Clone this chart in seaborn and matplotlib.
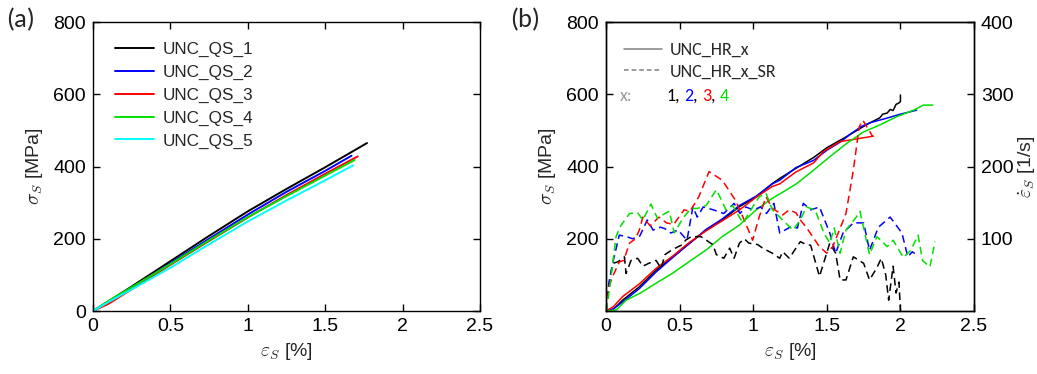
import numpy as np
import pandas as pd
import matplotlib
matplotlib.use("Agg")
import matplotlib.pyplot as plt
import seaborn as sns
from matplotlib.lines import Line2D

# ---------------- data: panel (a) quasi-static ----------------
qs_names = ["UNC_QS_1", "UNC_QS_2", "UNC_QS_3", "UNC_QS_4", "UNC_QS_5"]
qs1_x = [0, 0.1, 0.25, 0.5, 0.75, 1.0, 1.25, 1.5, 1.77]
qs1_y = [0, 27, 68, 138, 208, 276, 338, 398, 465]
qs2_x = [0, 0.1, 0.25, 0.5, 0.75, 1.0, 1.25, 1.5, 1.67]
qs2_y = [0, 26, 64, 132, 200, 267, 330, 388, 430]
qs3_x = [0, 0.1, 0.25, 0.5, 0.75, 1.0, 1.25, 1.5, 1.71]
qs3_y = [0, 20, 60, 128, 194, 259, 321, 380, 428]
qs4_x = [0, 0.1, 0.25, 0.5, 0.75, 1.0, 1.25, 1.5, 1.69]
qs4_y = [0, 28, 66, 130, 196, 260, 318, 375, 418]
qs5_x = [0, 0.1, 0.25, 0.5, 0.75, 1.0, 1.25, 1.5, 1.68]
qs5_y = [0, 25, 60, 120, 185, 248, 306, 362, 403]
qs_colors = ["#000000", "#0000ff", "#ff0000", "#00e000", "#00ffff"]

# ---------------- data: panel (b) high rate, stress [MPa] ----------------
hr_names = ["1", "2", "3", "4"]
hr1_x = [0, 0.05, 0.113, 0.226, 0.34, 0.453, 0.566, 0.68, 0.79, 0.906, 1.02, 1.13,
         1.18, 1.29, 1.41, 1.5, 1.635, 1.77, 1.86, 1.88, 1.91, 1.93, 1.95, 1.97,
         1.99, 2.0, 2.0]
hr1_y = [0, 5, 30, 67, 113, 150, 187, 224, 252, 289, 316, 353,
         367, 395, 425, 452, 483, 516, 535, 545, 548, 558, 555, 572,
         576, 580, 598]
hr2_x = [0, 0.05, 0.113, 0.226, 0.34, 0.453, 0.566, 0.68, 0.79, 0.906, 1.02, 1.13,
         1.18, 1.29, 1.41, 1.5, 1.6, 1.66, 1.74, 1.8, 1.9, 2.0, 2.11]
hr2_y = [0, 6, 25, 62, 108, 148, 187, 226, 255, 292, 318, 352,
         362, 397, 417, 445, 470, 490, 512, 522, 533, 545, 556]
hr3_x = [0, 0.05, 0.113, 0.226, 0.34, 0.453, 0.566, 0.68, 0.79, 0.9, 1.02, 1.13,
         1.18, 1.29, 1.41, 1.476, 1.59, 1.726, 1.816]
hr3_y = [0, 12, 40, 75, 118, 152, 190, 222, 250, 278, 315, 345,
         352, 385, 410, 441, 469, 478, 484]
hr4_x = [0, 0.07, 0.136, 0.23, 0.34, 0.45, 0.566, 0.68, 0.79, 0.906, 1.02, 1.13,
         1.245, 1.296, 1.41, 1.52, 1.635, 1.75, 1.86, 1.975, 2.09, 2.155, 2.22]
hr4_y = [0, 3, 30, 49, 77, 104, 137, 169, 206, 238, 280, 312,
         340, 353, 390, 427, 464, 496, 515, 538, 556, 570, 570]

# ---------------- data: panel (b) strain rate [1/s] ----------------
sr1_x = [0, 0.02, 0.045, 0.08, 0.125, 0.136, 0.17, 0.215, 0.25, 0.29, 0.34, 0.374,
         0.4, 0.45, 0.49, 0.52, 0.54, 0.58, 0.645, 0.725, 0.75, 0.8, 0.84, 0.87,
         0.906, 0.94, 0.97, 1.03, 1.064, 1.13, 1.18, 1.2, 1.245, 1.29, 1.32, 1.36,
         1.39, 1.45, 1.52, 1.56, 1.59, 1.63, 1.68, 1.72, 1.75, 1.79, 1.84, 1.87,
         1.9, 1.92, 1.95, 1.97, 1.99, 2.0]
sr1_y = [0, 34, 66, 68, 75, 52, 70, 73, 62, 66, 70, 59,
         78, 85, 89, 92, 98, 103, 103, 92, 78, 73, 87, 73,
         94, 100, 94, 92, 87, 80, 73, 82, 73, 87, 96, 92,
         91, 48, 94, 80, 43, 43, 75, 70, 66, 43, 60, 73,
         50, 15, 62, 25, 40, 0]
sr2_x = [0, 0.02, 0.045, 0.09, 0.14, 0.18, 0.23, 0.28, 0.32, 0.37, 0.4, 0.44, 0.49,
         0.55, 0.59, 0.62, 0.66, 0.73, 0.8, 0.87, 0.91, 0.95, 1.0, 1.05, 1.09, 1.14,
         1.18, 1.25, 1.3, 1.34, 1.39, 1.45, 1.52, 1.56, 1.61, 1.68, 1.75, 1.79, 1.85,
         1.93, 2.01, 2.05, 2.08, 2.11]
sr2_y = [0, 40, 66, 105, 103, 100, 104, 126, 112, 116, 114, 108, 112,
         98, 144, 130, 144, 140, 135, 149, 135, 144, 140, 144, 135, 149,
         108, 116, 115, 149, 140, 144, 108, 80, 108, 122, 122, 84, 116,
         130, 108, 75, 82, 78]
sr3_x = [0, 0.02, 0.05, 0.09, 0.12, 0.16, 0.2, 0.226, 0.25, 0.3, 0.36, 0.41, 0.46,
         0.53, 0.57, 0.63, 0.7, 0.79, 0.88, 0.93, 0.996, 1.04, 1.087, 1.13, 1.2,
         1.245, 1.29, 1.32, 1.36, 1.45, 1.5, 1.54, 1.63, 1.68, 1.72, 1.745, 1.81]
sr3_y = [0, 34, 50, 68, 70, 94, 100, 112, 130, 118, 130, 122, 120,
         140, 138, 158, 193, 181, 153, 130, 98, 130, 158, 142, 133,
         140, 136, 126, 116, 89, 80, 89, 135, 195, 255, 264, 242]
sr4_x = [0, 0.023, 0.068, 0.1, 0.16, 0.215, 0.25, 0.305, 0.35, 0.4, 0.43, 0.464,
         0.52, 0.577, 0.62, 0.68, 0.75, 0.815, 0.86, 0.906, 0.93, 0.996, 1.04,
         1.087, 1.13, 1.2, 1.27, 1.32, 1.36, 1.42, 1.48, 1.52, 1.55, 1.59, 1.63,
         1.7, 1.725, 1.79, 1.84, 1.91, 1.95, 2.02, 2.07, 2.12, 2.15, 2.2, 2.235]
sr4_y = [0, 29, 103, 118, 135, 136, 126, 148, 128, 135, 138, 108,
         128, 142, 142, 146, 168, 140, 146, 130, 122, 144, 158,
         163, 140, 126, 112, 126, 144, 140, 108, 94, 115, 80, 112,
         130, 138, 78, 103, 89, 98, 74, 84, 105, 70, 61, 96]
hr_colors = ["#000000", "#0000ff", "#ff0000", "#00e000"]

# ---------------- build tables ----------------
def long_df(xs, ys, names):
    frames = []
    for x, y, n in zip(xs, ys, names):
        frames.append(pd.DataFrame({"strain": x, "val": y, "spec": n}))
    return pd.concat(frames, ignore_index=True)

df_qs = long_df([qs1_x, qs2_x, qs3_x, qs4_x, qs5_x],
                [qs1_y, qs2_y, qs3_y, qs4_y, qs5_y], qs_names)
df_hr = long_df([hr1_x, hr2_x, hr3_x, hr4_x],
                [hr1_y, hr2_y, hr3_y, hr4_y], hr_names)
df_sr = long_df([sr1_x, sr2_x, sr3_x, sr4_x],
                [sr1_y, sr2_y, sr3_y, sr4_y], hr_names)

# ---------------- style ----------------
sns.set_theme(style="white")
plt.rcParams["font.family"] = ["Liberation Sans", "DejaVu Sans"]
plt.rcParams["mathtext.fontset"] = "cm"
plt.rcParams["axes.linewidth"] = 1.0
plt.rcParams["axes.edgecolor"] = "black"

fig = plt.figure(figsize=(10.37, 3.74), dpi=100)
axa = fig.add_axes([0.0897, 0.1684, 0.3732, 0.7727])
axb = fig.add_axes([0.5844, 0.1684, 0.3549, 0.7727])

FS = 14
cal = ["Carlito", "DejaVu Sans"]

def style_ax(ax, right=True):
    ax.tick_params(direction="in", length=5, width=1, labelsize=FS,
                   top=True, right=right, bottom=True, left=True, colors="black",
                   pad=5)
    for s in ax.spines.values():
        s.set_color("black")
        s.set_linewidth(1.0)

# ---------------- panel (a) ----------------
sns.lineplot(data=df_qs, x="strain", y="val", hue="spec", palette=qs_colors,
             hue_order=qs_names, sort=False, estimator=None, units="spec",
             lw=1.4, ax=axa)
axa.set_xlim(0, 2.5)
axa.set_ylim(0, 800)
axa.set_xticks([0, 0.5, 1, 1.5, 2, 2.5])
axa.set_xticklabels(["0", "0.5", "1", "1.5", "2", "2.5"])
axa.set_yticks([0, 200, 400, 600, 800])
style_ax(axa)
axa.set_xlabel(r"$\varepsilon_S$ [%]", fontsize=FS, labelpad=4)
axa.set_ylabel(r"$\sigma_S$ [MPa]", fontsize=FS, labelpad=6)
axa.legend(loc="upper left", bbox_to_anchor=(0.025, 0.972), frameon=False,
           fontsize=12.3, handlelength=2.3, handletextpad=0.5, labelspacing=0.45,
           borderaxespad=0.3)

# ---------------- panel (b) ----------------
axr = axb.twinx()
sns.lineplot(data=df_hr, x="strain", y="val", hue="spec", palette=hr_colors,
             hue_order=hr_names, sort=False, estimator=None, units="spec",
             lw=1.1, ax=axb, legend=False)
sns.lineplot(data=df_sr, x="strain", y="val", hue="spec", palette=hr_colors,
             hue_order=hr_names, sort=False, estimator=None, units="spec",
             lw=1.1, ax=axr, legend=False)
for ln in axr.get_lines():
    ln.set_dashes([5, 3])
axb.set_xlim(0, 2.5)
axb.set_ylim(0, 800)
axr.set_ylim(0, 400)
axb.set_xticks([0, 0.5, 1, 1.5, 2, 2.5])
axb.set_xticklabels(["0", "0.5", "1", "1.5", "2", "2.5"])
axb.set_yticks([200, 400, 600, 800])
axr.set_yticks([100, 200, 300, 400])
style_ax(axb, right=False)
axr.tick_params(direction="in", length=5, width=1, labelsize=FS, right=True,
                left=False, colors="black", pad=5)
axr.grid(False)
axb.set_xlabel(r"$\varepsilon_S$ [%]", fontsize=FS, labelpad=4)
axb.set_ylabel(r"$\sigma_S$ [MPa]", fontsize=FS, labelpad=6)
axr.set_ylabel(r"$\dot{\varepsilon}_S$ [1/s]", fontsize=FS, labelpad=2)

gray = "#808080"
handles = [Line2D([], [], color=gray, lw=1.1),
           Line2D([], [], color=gray, lw=1.1, dashes=[3, 2])]
axr.legend(handles, ["UNC_HR_x", "UNC_HR_x_SR"], loc="upper left",
           bbox_to_anchor=(0.015, 0.975), frameon=False,
           prop={"family": cal, "size": 13}, handlelength=2.1,
           handletextpad=0.4, labelspacing=0.3, borderaxespad=0.3)

axb.text(0.038, 0.727, "x:", transform=axb.transAxes, color="#999999",
         fontsize=13, family=cal, va="baseline")
prev = axb.text(0.163, 0.727, "1", transform=axb.transAxes, color="black",
                fontsize=13, family=cal, va="baseline")
pieces = [(", ", "black"), ("2", "#0000ff"), (", ", "black"), ("3", "#ff0000"),
          (", ", "black"), ("4", "#00e000")]
for txt, col in pieces:
    prev = axb.annotate(txt, xy=(1, 0), xycoords=prev, va="bottom", ha="left",
                        color=col, fontsize=13, family=cal)

# panel labels
fig.text(0.006, 0.947, "(a)", fontsize=19, family=cal, va="center")
fig.text(0.492, 0.947, "(b)", fontsize=19, family=cal, va="center")

fig.savefig("out.png", dpi=100)
